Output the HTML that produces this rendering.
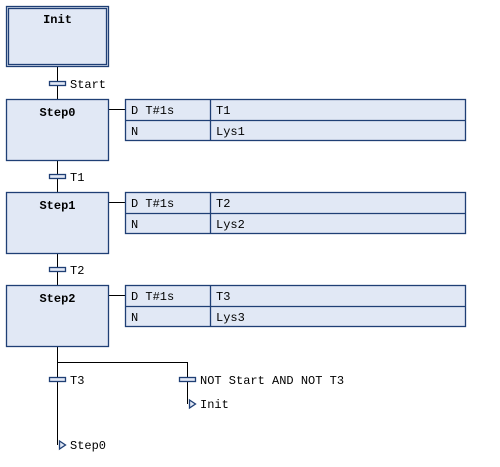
<!DOCTYPE html>
<html><head><style>html,body{margin:0;padding:0;background:#fff}svg{display:block}svg text{font-family:"Liberation Mono","DejaVu Sans Mono",monospace;font-size:12px}</style></head><body>
<svg width="500" height="467" xmlns="http://www.w3.org/2000/svg" fill="#000">
<g stroke="#000" stroke-width="1" fill="none">
<line x1="57.5" y1="67" x2="57.5" y2="99"/>
<line x1="57.5" y1="161" x2="57.5" y2="192"/>
<line x1="57.5" y1="254" x2="57.5" y2="285"/>
<line x1="57.5" y1="347" x2="57.5" y2="445"/>
<polyline points="57.5,362.5 187.5,362.5 187.5,404"/>
<line x1="109" y1="109.5" x2="125" y2="109.5"/>
<line x1="109" y1="202.5" x2="125" y2="202.5"/>
<line x1="109" y1="295.5" x2="125" y2="295.5"/>
</g>
<g fill="#e1e8f5" stroke="#1f3f75" stroke-width="1.3">
<rect x="6.5" y="6.5" width="102" height="60"/>
<rect x="8.5" y="8.5" width="98" height="56"/>
<rect x="6.5" y="99.5" width="102" height="61"/>
<rect x="6.5" y="192.5" width="102" height="61"/>
<rect x="6.5" y="285.5" width="102" height="61"/>
<rect x="125.5" y="99.5" width="340" height="41"/>
<rect x="125.5" y="192.5" width="340" height="41"/>
<rect x="125.5" y="285.5" width="340" height="41"/>
<rect x="49.5" y="81.5" width="16" height="4"/>
<rect x="49.5" y="174.5" width="16" height="4"/>
<rect x="49.5" y="267.5" width="16" height="4"/>
<rect x="49.5" y="377.5" width="16" height="4"/>
<rect x="179.5" y="377.5" width="16" height="4"/>
<polygon points="59.5,441 65.5,445 59.5,449"/>
<polygon points="189.5,400 195.5,404 189.5,408"/>
</g>
<g stroke="#1f3f75" stroke-width="1.3">
<line x1="125" y1="120.5" x2="466" y2="120.5"/><line x1="210.5" y1="99" x2="210.5" y2="141"/>
<line x1="125" y1="213.5" x2="466" y2="213.5"/><line x1="210.5" y1="192" x2="210.5" y2="234"/>
<line x1="125" y1="306.5" x2="466" y2="306.5"/><line x1="210.5" y1="285" x2="210.5" y2="327"/>
</g>
<g font-weight="bold" text-anchor="middle">
<text x="57.5" y="23">Init</text>
<text x="57.5" y="116">Step0</text>
<text x="57.5" y="209">Step1</text>
<text x="57.5" y="302">Step2</text>
</g>
<text x="70" y="88">Start</text>
<text x="70" y="181">T1</text>
<text x="70" y="274">T2</text>
<text x="70" y="384">T3</text>
<text x="200" y="384">NOT Start AND NOT T3</text>
<text x="200" y="408">Init</text>
<text x="70" y="449">Step0</text>
<text x="131" y="114">D T#1s</text><text x="216" y="114">T1</text>
<text x="131" y="135">N</text><text x="216" y="135">Lys1</text>
<text x="131" y="207">D T#1s</text><text x="216" y="207">T2</text>
<text x="131" y="228">N</text><text x="216" y="228">Lys2</text>
<text x="131" y="300">D T#1s</text><text x="216" y="300">T3</text>
<text x="131" y="321">N</text><text x="216" y="321">Lys3</text>
</svg>
</body></html>
